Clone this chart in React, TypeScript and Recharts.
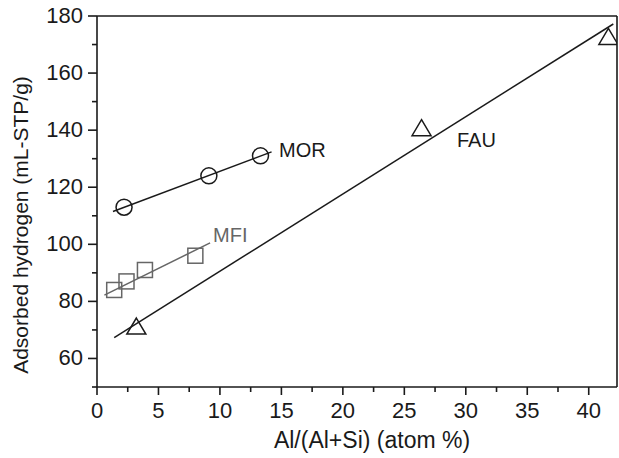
import { ComposedChart, Scatter, XAxis, YAxis, ReferenceLine } from "recharts";

// Al content (atom %) vs adsorbed hydrogen, per zeolite framework
const morX = [2.2, 9.1, 13.3];
const morY = [113, 124, 131];
const mfiX = [1.4, 2.4, 3.9, 8.0];
const mfiY = [84, 87, 91, 96];
const fauX = [3.2, 26.4, 41.6];
const fauY = [71, 140.5, 172.5];

// linear fit endpoints
const morFitX = [1.3, 14.2];
const morFitY = [111.5, 132.4];
const mfiFitX = [0.6, 9.2];
const mfiFitY = [82.2, 100.5];
const fauFitX = [1.4, 42.0];
const fauFitY = [67.3, 177.2];

const xTicks = [0, 2.5, 5, 7.5, 10, 12.5, 15, 17.5, 20, 22.5, 25, 27.5, 30, 32.5, 35, 37.5, 40];
const yTicks = [50, 60, 70, 80, 90, 100, 110, 120, 130, 140, 150, 160, 170, 180];
const xMax = 42.3;

const INK = "#1a1a1a";
const GREY = "#666";
const FONT = "Arial, 'Liberation Sans', sans-serif";

const pts = (xs: number[], ys: number[]) => xs.map((x, i) => ({ x, y: ys[i] }));

function XTick({ x, y, payload }: any) {
  const v = payload.value as number;
  const major = v % 5 === 0;
  return (
    <g>
      <line x1={x} x2={x} y1={y} y2={y + (major ? 8 : 5)} stroke={INK} strokeWidth={1.6} />
      {major && (
        <text x={x} y={y + 31} textAnchor="middle" fontSize={22} fill={INK} fontFamily={FONT}>
          {v}
        </text>
      )}
    </g>
  );
}

function YTick({ x, y, payload }: any) {
  const v = payload.value as number;
  const major = v % 20 === 0 && v >= 60;
  return (
    <g>
      <line x1={x} x2={x - (major ? 9 : 5)} y1={y} y2={y} stroke={INK} strokeWidth={1.6} />
      {major && (
        <text x={x - 14} y={y + 6.8} textAnchor="end" fontSize={22} fill={INK} fontFamily={FONT}>
          {v}
        </text>
      )}
    </g>
  );
}

const Circle = ({ cx, cy }: any) => (
  <circle cx={cx} cy={cy} r={8} fill="none" stroke={INK} strokeWidth={1.5} />
);
const Square = ({ cx, cy }: any) => (
  <rect x={cx - 7.5} y={cy - 7.5} width={15} height={15} fill="none" stroke={GREY} strokeWidth={1.5} />
);
const Triangle = ({ cx, cy }: any) => (
  <path
    d={`M${cx},${cy - 9} L${cx + 9.5},${cy + 7} L${cx - 9.5},${cy + 7} Z`}
    fill="none"
    stroke={INK}
    strokeWidth={1.5}
  />
);
const NoDot = () => <g />;

export default function App() {
  return (
    <div style={{ position: "absolute", left: 0, top: 0, background: "#fff" }}>
      <ComposedChart
        width={619}
        height={458}
        margin={{ top: 16, right: 2, bottom: 0, left: 0 }}
        style={{ fontFamily: FONT }}
      >
        <XAxis
          type="number"
          dataKey="x"
          domain={[0, xMax]}
          ticks={xTicks}
          allowDataOverflow
          height={71}
          tickSize={0}
          tickMargin={0}
          tickLine={false}
          tick={<XTick />}
          stroke={INK}
          strokeWidth={1.6}
        />
        <YAxis
          type="number"
          dataKey="y"
          domain={[50, 180]}
          ticks={yTicks}
          allowDataOverflow
          width={97}
          tickSize={0}
          tickMargin={0}
          tickLine={false}
          tick={<YTick />}
          stroke={INK}
          strokeWidth={1.6}
        />
        <ReferenceLine y={180} stroke={INK} strokeWidth={1.6} ifOverflow="extendDomain" />
        <ReferenceLine x={xMax} stroke={INK} strokeWidth={1.6} ifOverflow="extendDomain" />

        <Scatter data={pts(morFitX, morFitY)} line={{ stroke: INK, strokeWidth: 1.5 }} shape={<NoDot />} isAnimationActive={false} />
        <Scatter data={pts(mfiFitX, mfiFitY)} line={{ stroke: GREY, strokeWidth: 1.5 }} shape={<NoDot />} isAnimationActive={false} />
        <Scatter data={pts(fauFitX, fauFitY)} line={{ stroke: INK, strokeWidth: 1.5 }} shape={<NoDot />} isAnimationActive={false} />

        <Scatter name="MOR" data={pts(morX, morY)} shape={<Circle />} isAnimationActive={false} />
        <Scatter name="MFI" data={pts(mfiX, mfiY)} shape={<Square />} isAnimationActive={false} />
        <Scatter name="FAU" data={pts(fauX, fauY)} shape={<Triangle />} isAnimationActive={false} />
      </ComposedChart>
      <svg width={619} height={458} style={{ position: "absolute", left: 0, top: 0, pointerEvents: "none" }}>
        <text
          x={27.5}
          y={225}
          transform="rotate(-90 27.5 225)"
          textAnchor="middle"
          fontSize={21}
          fill={INK}
          fontFamily={FONT}
        >
          Adsorbed hydrogen (mL-STP/g)
        </text>
        <text x={372} y={448} textAnchor="middle" fontSize={23} fill={INK} fontFamily={FONT}>
          Al/(Al+Si) (atom %)
        </text>
        <text x={279} y={157} fontSize={20} fill={INK} fontFamily={FONT}>MOR</text>
        <text x={213} y={242} fontSize={20} fill={GREY} fontFamily={FONT}>MFI</text>
        <text x={457} y={147} fontSize={20} fill={INK} fontFamily={FONT}>FAU</text>
      </svg>
    </div>
  );
}
